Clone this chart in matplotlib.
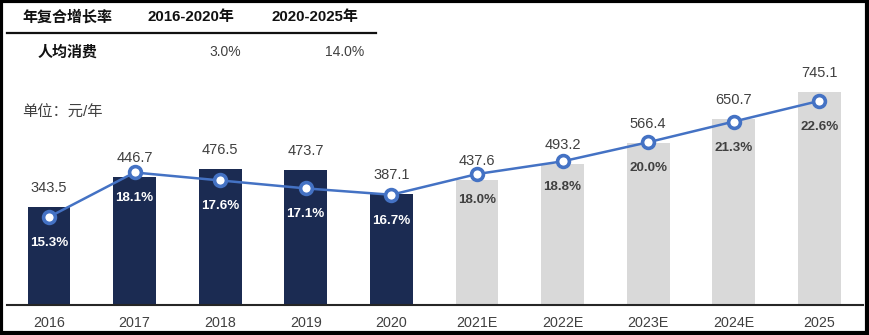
import matplotlib
matplotlib.use("Agg")
import matplotlib.pyplot as plt
from matplotlib.patches import Rectangle
from matplotlib.lines import Line2D

plt.rcParams['font.family'] = ['Liberation Sans', 'Noto Sans CJK SC', 'DejaVu Sans']

years = ["2016", "2017", "2018", "2019", "2020", "2021E", "2022E", "2023E", "2024E", "2025"]
spend = [343.5, 446.7, 476.5, 473.7, 387.1, 437.6, 493.2, 566.4, 650.7, 745.1]
share = [15.3, 18.1, 17.6, 17.1, 16.7, 18.0, 18.8, 20.0, 21.3, 22.6]
actual_count = 5

table_header = ["年复合增长率", "2016-2020年", "2020-2025年"]
table_row = ["人均消费", "3.0%", "14.0%"]
unit_label = "单位：元/年"

NAVY = "#1B2B52"
GREY = "#D9D9D9"
BLUE = "#4472C4"
TXT = "#404040"
DARK = "#111111"

W, H = 869, 335
fig = plt.figure(figsize=(W / 100, H / 100), dpi=100)

def fx(px):
    return px / W

def fy(py):
    return 1 - py / H

ax_left, ax_right, ax_bottom, ax_top = 7, 863, 305, 60
ax = fig.add_axes([fx(ax_left), fy(ax_bottom), fx(ax_right - ax_left), (ax_bottom - ax_top) / H])
ax2 = ax.twinx()

x = list(range(len(years)))
colors = [NAVY if i < actual_count else GREY for i in x]
ax.bar(x, spend, width=0.5, color=colors, zorder=2)
ax.set_xlim(-0.49, len(years) - 0.49)
ax.set_ylim(0, 857)
ax2.set_ylim(9.77, 25.17)

ax2.plot(x, share, color=BLUE, lw=1.8, marker="o", markersize=8.5,
         markerfacecolor="white", markeredgecolor=BLUE, markeredgewidth=2.6, zorder=5)

for i in x:
    ax.annotate(f"{spend[i]:.1f}", (i, spend[i]), xytext=(0, 19), textcoords="offset pixels",
                ha="center", va="center", fontsize=10.5, color=TXT)
    tc = "white" if i < actual_count else TXT
    ax2.annotate(f"{share[i]:.1f}%", (i, share[i]), xytext=(0, -26), textcoords="offset pixels",
                 ha="center", va="center", fontsize=9.6, fontweight="bold", color=tc)

ax.set_xticks(x)
ax.set_xticklabels(years, fontsize=10.3, color=TXT)
ax.tick_params(axis="x", length=0, pad=8)
ax.set_yticks([])
ax2.set_yticks([])
for a in (ax, ax2):
    for s in ("top", "right", "left"):
        a.spines[s].set_visible(False)
ax2.spines["bottom"].set_visible(False)
ax.spines["bottom"].set_color("#262626")
ax.spines["bottom"].set_linewidth(1.5)
ax.patch.set_alpha(0)

# table at top
fig.text(fx(22), fy(17), table_header[0], ha="left", va="center", fontsize=10.8, fontweight="bold", color=DARK)
fig.text(fx(191), fy(17), table_header[1], ha="center", va="center", fontsize=10.8, fontweight="bold", color=DARK)
fig.text(fx(315), fy(17), table_header[2], ha="center", va="center", fontsize=10.8, fontweight="bold", color=DARK)
fig.add_artist(Line2D([fx(7), fx(376)], [fy(33), fy(33)], color=DARK, lw=1.6))
fig.text(fx(38), fy(52), table_row[0], ha="left", va="center", fontsize=10.8, fontweight="bold", color=DARK)
fig.text(fx(241), fy(52), table_row[1], ha="right", va="center", fontsize=10, color=TXT)
fig.text(fx(364), fy(52), table_row[2], ha="right", va="center", fontsize=10, color=TXT)
fig.text(fx(22), fy(113), unit_label, ha="left", va="center", fontsize=11, color=TXT)

# border
fig.add_artist(Rectangle((fx(1), fy(333)), fx(866), (332) / H, fill=False,
                         edgecolor="black", lw=3, transform=fig.transFigure))

fig.savefig("out.png", dpi=100)
